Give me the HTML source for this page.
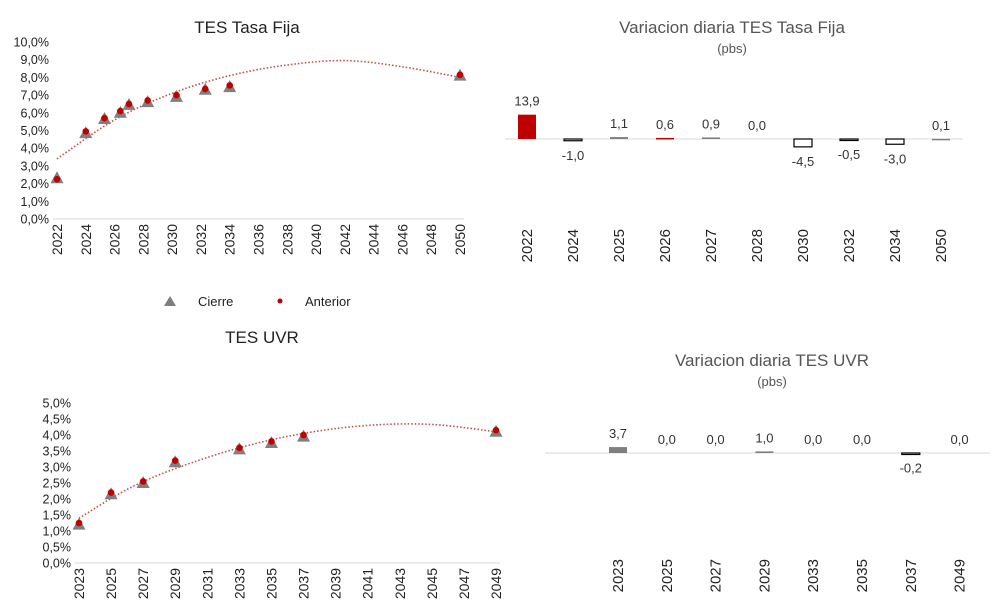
<!DOCTYPE html>
<html><head><meta charset="utf-8">
<style>
body{margin:0;background:#fff;}
svg{display:block;font-family:"Liberation Sans",sans-serif;}
</style></head>
<body>
<svg id="c" width="992" height="603" viewBox="0 0 992 603">
<text x="247" y="33" font-size="17" text-anchor="middle" fill="#222">TES Tasa Fija</text>
<text x="732" y="33" font-size="17" text-anchor="middle" fill="#555">Variacion diaria TES Tasa Fija</text>
<text x="732" y="53" font-size="13" text-anchor="middle" fill="#555">(pbs)</text>
<text x="262" y="343" font-size="17" text-anchor="middle" fill="#222">TES UVR</text>
<text x="772" y="366" font-size="17" text-anchor="middle" fill="#555">Variacion diaria TES UVR</text>
<text x="772" y="386" font-size="13" text-anchor="middle" fill="#555">(pbs)</text>
<g>
<polygon points="170,296 176,306 164,306" fill="#7f7f7f"/>
<text x="198" y="306" font-size="13" fill="#222">Cierre</text>
<circle cx="280" cy="301" r="2.5" fill="#c00000"/>
<text x="305" y="306" font-size="13" fill="#222">Anterior</text>
</g>
</svg>
<script>
// Chart 1: TES Tasa Fija
const tfYears=[2022,2024,2025.3,2026.4,2027,2028.3,2030.3,2032.3,2034,2050];
const tfCierre=[2.3,4.85,5.65,6.0,6.45,6.6,6.9,7.3,7.45,8.1];
const tfAnterior=[2.25,4.95,5.7,6.1,6.5,6.7,7.0,7.35,7.55,8.15];
const tfTrendYears=[2022,2026,2030,2034,2038,2042,2046,2050];
const tfTrend=[3.4,5.6,7.1,8.1,8.7,8.95,8.6,8.0];
const tfYTicks=["0,0%","1,0%","2,0%","3,0%","4,0%","5,0%","6,0%","7,0%","8,0%","9,0%","10,0%"];
const tfXTicks=[2022,2024,2026,2028,2030,2032,2034,2036,2038,2040,2042,2044,2046,2048,2050];
// Chart 2: Variacion Tasa Fija
const vfCats=["2022","2024","2025","2026","2027","2028","2030","2032","2034","2050"];
const vfVals=[13.9,-1.0,1.1,0.6,0.9,0.0,-4.5,-0.5,-3.0,0.1];
const vfLabels=["13,9","-1,0","1,1","0,6","0,9","0,0","-4,5","-0,5","-3,0","0,1"];
const vfColors=["#c00000","none","#7f7f7f","#c00000","#7f7f7f","#7f7f7f","none","none","none","#7f7f7f"];
// Chart 3: TES UVR
const uvYears=[2023,2025,2027,2029,2033,2035,2037,2049];
const uvCierre=[1.2,2.15,2.5,3.15,3.55,3.75,3.95,4.1];
const uvAnterior=[1.25,2.2,2.55,3.2,3.6,3.8,4.0,4.15];
const uvTrendYears=[2023,2026,2029,2033,2037,2041,2045,2049];
const uvTrend=[1.4,2.3,2.95,3.6,4.05,4.3,4.33,4.1];
const uvYTicks=["0,0%","0,5%","1,0%","1,5%","2,0%","2,5%","3,0%","3,5%","4,0%","4,5%","5,0%"];
const uvXTicks=[2023,2025,2027,2029,2031,2033,2035,2037,2039,2041,2043,2045,2047,2049];
// Chart 4: Variacion UVR
const vuCats=["2023","2025","2027","2029","2033","2035","2037","2049"];
const vuVals=[3.7,0.0,0.0,1.0,0.0,0.0,-0.2,0.0];
const vuLabels=["3,7","0,0","0,0","1,0","0,0","0,0","-0,2","0,0"];
const vuColors=["#7f7f7f","#7f7f7f","#7f7f7f","#7f7f7f","#7f7f7f","#7f7f7f","none","#7f7f7f"];

const NS="http://www.w3.org/2000/svg";
const svg=document.getElementById('c');
function mk(tag,attrs,parent){const e=document.createElementNS(NS,tag);for(const k in attrs)e.setAttribute(k,attrs[k]);(parent||svg).appendChild(e);return e;}

function lineChart(o){
  const g=mk('g',{});
  
  
  const x=v=>o.x0+(v-o.xmin)/(o.xmax-o.xmin)*(o.x1-o.x0);
  const y=v=>o.y0-(v/o.ymax)*(o.y0-o.y1);
  const ax=mk('line',{x1:o.x0-4,x2:o.x1+4,y1:o.y0,y2:o.y0,stroke:'#d9d9d9','stroke-width':1},g);
  
  
  o.yt.forEach((t,i)=>{const v=i*o.ymax/(o.yt.length-1);
    const e=mk('text',{x:o.x0-8,y:y(v)+4.5,'font-size':12.5,'text-anchor':'end',fill:'#222'},g);e.textContent=t;
    
    });
  o.xt.forEach(t=>{const xx=x(t);
    const e=mk('text',{transform:`translate(${xx+5},${o.y0+5}) rotate(-90)`,'font-size':14,'text-anchor':'end',fill:'#222'},g);e.textContent=t;
    
    });
  const pts=o.ty.map((yy,i)=>[x(yy),y(o.tv[i])]);
  let d=`M${pts[0][0]},${pts[0][1]}`;
  for(let i=0;i<pts.length-1;i++){const p0=pts[i-1]||pts[i],p1=pts[i],p2=pts[i+1],p3=pts[i+2]||p2;
    d+=` C${p1[0]+(p2[0]-p0[0])/6},${p1[1]+(p2[1]-p0[1])/6} ${p2[0]-(p3[0]-p1[0])/6},${p2[1]-(p3[1]-p1[1])/6} ${p2[0]},${p2[1]}`;}
  const tr=mk('path',{d:d,fill:'none',stroke:'#c0504d','stroke-width':1.6,'stroke-dasharray':'1.5 2'},g);
  
  
  o.xs.forEach((yy,i)=>{const cx=x(yy),cy=y(o.c[i]);
    const t=mk('polygon',{points:`${cx},${cy-7} ${cx+6.5},${cy+5} ${cx-6.5},${cy+5}`,fill:'#7f7f7f'},g);
    
    });
  o.xs.forEach((yy,i)=>{
    const c=mk('circle',{cx:x(yy),cy:y(o.a[i]),r:3.3,fill:'#c00000'},g);
    
    });
}
lineChart({name:'tes-tasa-fija-chart',x0:57,x1:460,y0:219,y1:42,xmin:2022,xmax:2050,ymax:10,yt:tfYTicks,xt:tfXTicks,xs:tfYears,c:tfCierre,a:tfAnterior,ty:tfTrendYears,tv:tfTrend});
lineChart({name:'tes-uvr-chart',x0:79,x1:496,y0:563,y1:403,xmin:2023,xmax:2049,ymax:5,yt:uvYTicks,xt:uvXTicks,xs:uvYears,c:uvCierre,a:uvAnterior,ty:uvTrendYears,tv:uvTrend});

function barChart(o){
  const g=mk('g',{});
  
  
  const ax=mk('line',{x1:o.ax0,x2:o.ax1,y1:o.base,y2:o.base,stroke:'#d9d9d9','stroke-width':1},g);
  
  
  const bw=18;
  o.cats.forEach((c,i)=>{
    const cx=o.xs0+i*o.step,v=o.vals[i],h=Math.abs(v)*o.k;
    const top=v>=0?o.base-h:o.base;
    const fill=o.colors[i];
    const r=mk('rect',{x:cx-bw/2,y:top,width:bw,height:Math.max(h,v===0?0:1.5),fill:fill==='none'?'#fff':fill,stroke:fill==='none'?'#000':'none','stroke-width':1.2},g);
    
    
    const ly=v>=0?top-9:o.base+h+19;
    const t=mk('text',{x:cx,y:ly,'font-size':13,'text-anchor':'middle',fill:'#333'},g);t.textContent=o.labels[i];
    
    
    const xt=mk('text',{transform:`translate(${cx+5},${o.labY}) rotate(-90)`,'font-size':15,'text-anchor':'end',fill:'#222'},g);xt.textContent=c;
    
    
  });
}
barChart({name:'variacion-tasa-fija-chart',ax0:505,ax1:963,base:139,xs0:527,step:46,k:1.75,cats:vfCats,vals:vfVals,labels:vfLabels,colors:vfColors,labY:229});
barChart({name:'variacion-uvr-chart',ax0:545,ax1:990,base:453,xs0:618,step:48.8,k:1.6,cats:vuCats,vals:vuVals,labels:vuLabels,colors:vuColors,labY:559});
</script>
</body></html>
